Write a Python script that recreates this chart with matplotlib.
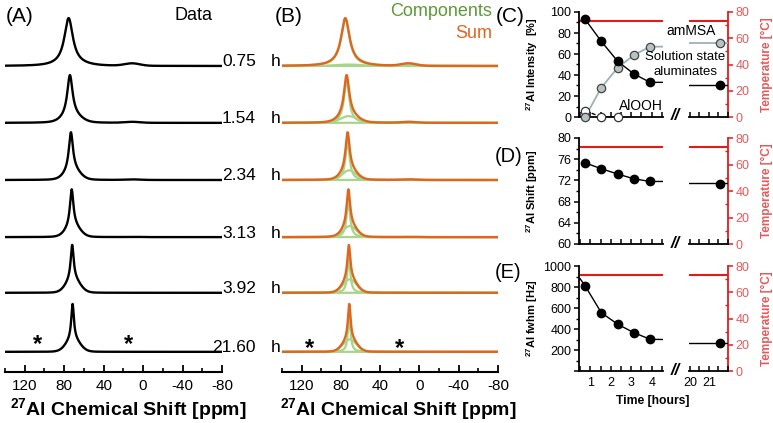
import numpy as np
import matplotlib
matplotlib.use('Agg')
import matplotlib.pyplot as plt
from matplotlib.ticker import MultipleLocator, FixedLocator

plt.rcParams['font.family'] = ['Liberation Sans', 'DejaVu Sans']
plt.rcParams['mathtext.fontset'] = 'custom'
plt.rcParams['mathtext.rm'] = 'Liberation Sans'
plt.rcParams['mathtext.bf'] = 'Liberation Sans:bold'
plt.rcParams['mathtext.it'] = 'Liberation Sans:italic'
plt.rcParams['axes.unicode_minus'] = False

# ---------------- data ----------------
times_h = [0.75, 1.54, 2.34, 3.13, 3.92, 21.60]
time_labels = ['0.75', '1.54', '2.34', '3.13', '3.92', '21.60']

# spectral components (normalised intensity, ppm)
narrow_pos = [75.5, 74.2, 73.2, 72.4, 71.9, 71.5]
narrow_fwhm = [10.5, 6.5, 5.0, 4.2, 3.6, 3.2]
narrow_height = [0.97, 0.86, 0.80, 0.77, 0.72, 0.74]
broad_pos = [72.0, 72.0, 71.5, 71.0, 71.0, 71.0]
broad_fwhm = [30.0, 20.0, 17.0, 16.0, 16.0, 16.0]
broad_height = [0.03, 0.14, 0.20, 0.23, 0.28, 0.26]
alooh_pos = [11.0] * 6
alooh_fwhm = [18.0] * 6
alooh_height = [0.05, 0.02, 0.012, 0.005, 0.0, 0.0]

# panel C
amMSA_pct = [93, 72, 53, 41, 33, 30]
solution_pct = [0, 28, 47, 59, 67, 70]
alooh_time = [0.75, 1.54, 2.34]
alooh_pct = [6, 0, 0]
# fitted guide lines (left segment)
fit_time = [0.75, 1.54, 2.34, 3.13, 3.92, 4.55]
amMSA_fit = [93, 72, 53, 41, 33, 33]
solution_fit = [0, 28, 47, 59, 67, 67]
amMSA_late = 30
solution_late = 70

# panel D
shift_ppm = [75.3, 74.2, 73.2, 72.3, 71.8, 71.4]
shift_fit = [75.3, 74.2, 73.2, 72.3, 71.8, 71.8]
shift_late = 71.5

# panel E
fwhm_hz = [810, 555, 445, 365, 302, 264]
fwhm_fit_time = [0.5, 0.75, 1.54, 2.34, 3.13, 3.92, 4.55]
fwhm_fit = [880, 810, 555, 445, 365, 302, 300]
fwhm_late = 265

temperature_C = 73

# ---------------- style ----------------
ORANGE = '#DF661D'
GREEN_TXT = '#5C9A36'
GREEN_LN = '#A8D48C'
RED = '#E31A1A'
RED_TXT = '#E35A5A'
GRAY_LN = '#9BB3B3'
GRAY_FC = '#B5C3C3'

W, H = 773, 423
fig = plt.figure(figsize=(W / 100, H / 100), dpi=100)


def rect(x0, y0, x1, y1):
    return [x0 / W, 1 - y1 / H, (x1 - x0) / W, (y1 - y0) / H]


def fx(x):
    return x / W


def fy(y):
    return 1 - y / H


def lorentz(x, h, p, w):
    return h / (1 + ((x - p) / (w / 2)) ** 2)


def gauss(x, h, p, w):
    return h * np.exp(-4 * np.log(2) * ((x - p) / w) ** 2)


ppm = np.linspace(140, -80, 2000)
unit_px = 48.0
offsets = [6.375, 5.19, 4.0, 2.81, 1.65, 0.42]


def spec_axes(box):
    ax = fig.add_axes(box)
    ax.set_xlim(140, -80)
    ax.set_ylim(0, 367 / unit_px)
    for s in ['top', 'left', 'right']:
        ax.spines[s].set_visible(False)
    ax.spines['bottom'].set_linewidth(1.5)
    ax.set_yticks([])
    ax.xaxis.set_major_locator(FixedLocator([120, 80, 40, 0, -40, -80]))
    ax.xaxis.set_minor_locator(MultipleLocator(20))
    ax.tick_params(axis='x', which='major', direction='in', length=5, width=1.3,
                   labelsize=11, pad=5)
    ax.tick_params(axis='x', which='minor', direction='in', length=3, width=1.2)
    return ax


axA = spec_axes(rect(5, 5, 222, 372))
axB = spec_axes(rect(282, 5, 498, 372))

for i in range(len(times_h)):
    n = lorentz(ppm, narrow_height[i], narrow_pos[i], narrow_fwhm[i])
    b = gauss(ppm, broad_height[i], broad_pos[i], broad_fwhm[i])
    a = gauss(ppm, alooh_height[i], alooh_pos[i], alooh_fwhm[i])
    total = n + b + a
    off = offsets[i]
    axA.plot(ppm, total + off, color='black', lw=1.7)
    for comp in (b, a, n):
        axB.plot(ppm, comp + off, color=GREEN_LN, lw=1.6)
    axB.plot(ppm, total + off, color=ORANGE, lw=1.7)
    yb = 372 - off * unit_px
    fig.text(fx(256), fy(yb - 4), time_labels[i], ha='right', va='center', fontsize=12.5)
    fig.text(fx(271), fy(yb - 4), 'h', ha='left', va='center', fontsize=12.5)

# asterisks (spinning side bands)
for ax, xs, yv in ((axA, (107, 15), 0.58), (axB, (112, 20), 0.48)):
    for xv in xs:
        ax.text(xv, yv, '*', ha='center', va='center', fontsize=17, fontweight='bold')

fig.text(fx(20), fy(16), '(A)', ha='center', va='center', fontsize=15)
fig.text(fx(289), fy(16), '(B)', ha='center', va='center', fontsize=15)
fig.text(fx(194), fy(15), 'Data', ha='center', va='center', fontsize=13)
fig.text(fx(492), fy(12), 'Components', ha='right', va='center', fontsize=13, color=GREEN_TXT)
fig.text(fx(492), fy(33), 'Sum', ha='right', va='center', fontsize=13, color=ORANGE)
xl = r'$^{\mathbf{27}}$Al Chemical Shift [ppm]'
fig.text(fx(128), fy(409), xl, ha='center', va='center', fontsize=14, fontweight='bold')
fig.text(fx(398), fy(409), xl, ha='center', va='center', fontsize=14, fontweight='bold')

# ---------------- panels C, D, E ----------------
LX0, LX1, RX0, RX1 = 579, 663, 689, 728


def time_panel(y0, y1, ylim, ymaj, ymin, ylabel, show_x_labels):
    axL = fig.add_axes(rect(LX0, y0, LX1, y1))
    axR = fig.add_axes(rect(RX0, y0, RX1, y1))
    axL.set_xlim(0.45, 4.55)
    axR.set_xlim(19.95, 22.0)
    for ax in (axL, axR):
        ax.set_ylim(*ylim)
        ax.patch.set_alpha(0)
        ax.spines['top'].set_visible(False)
        ax.spines['right'].set_visible(False)
        ax.spines['bottom'].set_linewidth(1.3)
        ax.xaxis.set_major_locator(MultipleLocator(1))
        ax.xaxis.set_minor_locator(MultipleLocator(0.5))
        ax.tick_params(axis='x', which='both', direction='in', length=3.5, width=1.1,
                       labelsize=9, pad=4)
        if not show_x_labels:
            ax.tick_params(axis='x', labelbottom=False)
    axL.spines['left'].set_linewidth(1.3)
    axL.yaxis.set_major_locator(FixedLocator(ymaj))
    axL.yaxis.set_minor_locator(MultipleLocator(ymin))
    axL.tick_params(axis='y', which='major', direction='out', length=3.5, width=1.1,
                    labelsize=9, pad=2)
    axL.tick_params(axis='y', which='minor', direction='out', length=2, width=1)
    axL.set_ylabel(ylabel, fontsize=8, fontweight='bold')
    axL.yaxis.set_label_coords((540 - LX0) / (LX1 - LX0), 0.5)
    axR.spines['left'].set_visible(False)
    axR.set_yticks([])
    # temperature twins
    tL = axL.twinx()
    tL.set_ylim(0, 80)
    for s in tL.spines.values():
        s.set_visible(False)
    tL.set_yticks([])
    tL.axhline(temperature_C, color=RED, lw=1.5)
    tR = axR.twinx()
    tR.set_ylim(0, 80)
    for s in ['top', 'left', 'bottom']:
        tR.spines[s].set_visible(False)
    tR.spines['right'].set_color(RED)
    tR.spines['right'].set_linewidth(1.3)
    tR.yaxis.set_major_locator(MultipleLocator(20))
    tR.yaxis.set_minor_locator(MultipleLocator(10))
    tR.tick_params(axis='y', which='major', direction='out', length=3.5, width=1.1,
                   colors=RED, labelcolor=RED_TXT, labelsize=9, pad=2)
    tR.tick_params(axis='y', which='minor', direction='in', length=2.5, width=1, colors=RED)
    tR.set_ylabel('Temperature [°C]', fontsize=8.5, fontweight='bold', color=RED_TXT)
    tR.yaxis.set_label_coords((761 - RX0) / (RX1 - RX0), 0.5)
    tR.axhline(temperature_C, color=RED, lw=1.5)
    # axis break mark
    fig.text(fx(675), fy(y1 - 1), '//', ha='center', va='center', fontsize=12,
             fontweight='bold', style='italic')
    axL.set_zorder(3)
    axR.set_zorder(3)
    return axL, axR


mk = dict(marker='o', ms=6, ls='none', clip_on=False, zorder=5)

# C
cL, cR = time_panel(12, 117, (0, 100), [0, 20, 40, 60, 80, 100], 10,
                    r'$^{\mathbf{27}}$Al Intensity  [%]', False)
cL.plot(alooh_time, alooh_pct, color='black', lw=1, ls=(0, (3, 2)), zorder=3)
cL.plot(alooh_time, alooh_pct, mfc='white', mec='#333333', mew=0.9, **mk)
cL.plot(fit_time, solution_fit, color=GRAY_LN, lw=1.3, zorder=3)
cL.plot(times_h[:5], solution_pct[:5], mfc=GRAY_FC, mec='#444444', mew=0.9, **mk)
cL.plot(fit_time, amMSA_fit, color='black', lw=1, zorder=3)
cL.plot(times_h[:5], amMSA_pct[:5], mfc='black', mec='black', **mk)
cR.axhline(solution_late, color=GRAY_LN, lw=1.3)
cR.axhline(amMSA_late, color='black', lw=1)
cR.plot(times_h[5:], solution_pct[5:], mfc=GRAY_FC, mec='#444444', mew=0.9, **mk)
cR.plot(times_h[5:], amMSA_pct[5:], mfc='black', mec='black', **mk)
fig.text(fx(691), fy(31), 'amMSA', ha='center', va='center', fontsize=10)
fig.text(fx(685), fy(57), 'Solution state', ha='center', va='center', fontsize=9.5)
fig.text(fx(685), fy(72), 'aluminates', ha='center', va='center', fontsize=9.5)
fig.text(fx(641), fy(106), 'AlOOH', ha='center', va='center', fontsize=10)

# D
dL, dR = time_panel(138, 244, (60, 80), [60, 64, 68, 72, 76, 80], 2,
                    r'$^{\mathbf{27}}$Al Shift [ppm]', False)
dL.plot(fit_time, shift_fit, color='black', lw=1, zorder=3)
dL.plot(times_h[:5], shift_ppm[:5], mfc='black', mec='black', **mk)
dR.axhline(shift_late, color='black', lw=1)
dR.plot(times_h[5:], shift_ppm[5:], mfc='black', mec='black', **mk)

# E
eL, eR = time_panel(266, 371, (0, 1000), [0, 200, 400, 600, 800, 1000], 100,
                    r'$^{\mathbf{27}}$Al fwhm [Hz]', True)
eL.yaxis.set_major_formatter(plt.FuncFormatter(lambda v, p: '' if v == 0 else f'{v:.0f}'))
eL.plot(fwhm_fit_time, fwhm_fit, color='black', lw=1, zorder=3)
eL.plot(times_h[:5], fwhm_hz[:5], mfc='black', mec='black', **mk)
eR.axhline(fwhm_late, color='black', lw=1)
eR.plot(times_h[5:], fwhm_hz[5:], mfc='black', mec='black', **mk)
eL.set_xticks([1, 2, 3, 4])
eR.set_xticks([20, 21])

fig.text(fx(653), fy(401), 'Time [hours]', ha='center', va='center', fontsize=8.7,
         fontweight='bold')

fig.text(fx(510), fy(17), '(C)', ha='center', va='center', fontsize=15)
fig.text(fx(509), fy(157), '(D)', ha='center', va='center', fontsize=14.5)
fig.text(fx(508), fy(272), '(E)', ha='center', va='center', fontsize=14.5)

fig.savefig('out.png', dpi=100)
